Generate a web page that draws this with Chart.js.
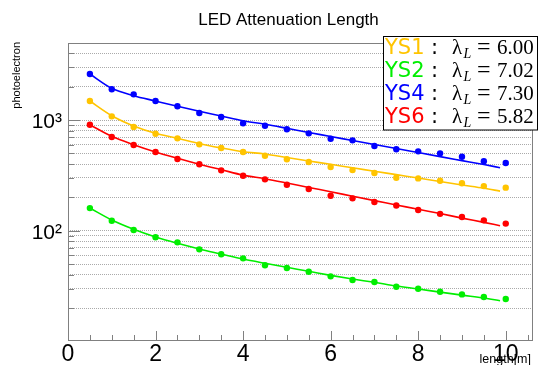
<!DOCTYPE html>
<html><head><meta charset="utf-8">
<script src="https://cdn.jsdelivr.net/npm/chart.js@4"></script>
<style>html,body{margin:0;padding:0;background:#fff}</style>
</head><body>
<canvas id="c" width="539" height="365" style="display:block;width:539px;height:365px"></canvas>
<script>
// ---- data ----
const lengthsM = [0.5,1.0,1.5,2.0,2.5,3.0,3.5,4.0,4.5,5.0,5.5,6.0,6.5,7.0,7.5,8.0,8.5,9.0,9.5,10.0];
const fitLengthsM = [0.5,1.0,1.5,2.0,2.5,3.0,3.5,4.0,4.5,5.0,5.5,6.0,6.5,7.0,7.5,8.0,8.5,9.0,9.5,9.87];

const ys1Points = [1484,1079,865,752,683,603,559,514,476,442,417,376,353,332,301,297,283,268,253,245];
const ys2Points = [160,123,101.5,87.2,78.5,67.9,61.2,56.3,48.7,46.0,42.6,38.7,35.9,34.4,31.2,29.9,28.1,26.6,25.2,24.2];
const ys4Points = [2604,1894,1706,1484,1330,1157,1064,934,888,824,758,678,655,582,544,521,500,466,424,409];
const ys6Points = [907,702,594,514,444,398,351,314,291,260,238,207,196,182,169,154,142,133,124,116];

const ys1Fit = [1484,1093,883,758,683,611,559,517,493,458,426,398,370,345,321,299,278,259,242,228];
const ys2Fit = [160.3,125,103,87.7,76.9,68.4,61.6,55.5,50.8,46.7,43.0,39.5,36.6,34.2,31.7,29.8,27.9,26.2,24.7,23.3];
const ys4Fit = [2604,1933,1658,1484,1330,1198,1087,985,915,841,771,710,652,600,553,508,467,430,396,371];
const ys6Fit = [907,712,598,514,451,398,356,318,295,270,246,225,205,187,171,156,143,130,119,111];

const seriesNames = ['YS1','YS2','YS4','YS6'];
const attenuationLengths = ['6.00','7.02','7.30','5.82'];

const xTickValues = [0,2,4,6,8,10];
const xMinorTickValues = [0.5,1,1.5,2.5,3,3.5,4.5,5,5.5,6.5,7,7.5,8.5,9,9.5,10.5];
const yTickValues = [20,30,40,50,60,70,80,90,100,200,300,400,500,600,700,800,900,1000,2000,3000,4000];
const yMajorTickValues = [100,1000];
const yTickLabels = {100:'10\u00B2', 1000:'10\u00B3'};

const chartTitle = 'LED Attenuation Length';
const yTitle = 'photoelectron';
const xTitle = 'length[m]';

// ---- styles ----
const colors = {YS1:'#ffc400', YS2:'#00ee00', YS4:'#0000ff', YS6:'#ff0000'};
const AXIS = '#808080';

function pts(xs, ys){ return xs.map((x,i)=>({x:x, y:ys[i]})); }
function fitDs(ys, c){ return {data: pts(fitLengthsM, ys), borderColor:c, borderWidth:1.6, pointRadius:0, fill:false, cubicInterpolationMode:'monotone'}; }
function ptDs(ys, c){ return {data: pts(lengthsM, ys), showLine:false, pointRadius:3.2, pointBackgroundColor:c, pointBorderWidth:0, borderColor:c}; }

const decor = {
  id:'decor',
  beforeDatasetsDraw(chart){
    const ctx = chart.ctx, a = chart.chartArea, xs = chart.scales.x, ys = chart.scales.y;
    ctx.save();
    ctx.strokeStyle = AXIS; ctx.lineWidth = 1;
    yTickValues.forEach(v=>{
      const py = Math.round(ys.getPixelForValue(v)) + 0.5;
      const len = yMajorTickValues.includes(v) ? 12 : 6;
      ctx.beginPath(); ctx.moveTo(a.left, py); ctx.lineTo(a.left + len, py); ctx.stroke();
    });
    xTickValues.forEach(v=>{
      const px = Math.round(xs.getPixelForValue(v)) + 0.5;
      ctx.beginPath(); ctx.moveTo(px, a.bottom); ctx.lineTo(px, a.bottom - 9); ctx.stroke();
    });
    xMinorTickValues.forEach(v=>{
      const px = Math.round(xs.getPixelForValue(v)) + 0.5;
      ctx.beginPath(); ctx.moveTo(px, a.bottom); ctx.lineTo(px, a.bottom - 5); ctx.stroke();
    });
    ctx.strokeRect(Math.round(a.left)+0.5, Math.round(a.top)+0.5, Math.round(a.right-a.left), Math.round(a.bottom-a.top));
    ctx.restore();
  },
  afterDraw(chart){
    const ctx = chart.ctx;
    ctx.save();
    ctx.fillStyle = '#000';
    ctx.font = '17px "Liberation Sans", Arial, sans-serif';
    ctx.textAlign = 'center'; ctx.textBaseline = 'alphabetic';
    ctx.fillText(chartTitle, 288.5, 25);
    ctx.save();
    ctx.translate(19.5, 42); ctx.rotate(-Math.PI/2);
    ctx.font = '11px "Liberation Sans", Arial, sans-serif';
    ctx.textAlign = 'right';
    ctx.fillText(yTitle, 0, 0);
    ctx.restore();
    ctx.font = '12.5px "Liberation Sans", Arial, sans-serif';
    ctx.textAlign = 'right';
    ctx.fillText(xTitle, 531, 363);
    // legend box
    ctx.fillStyle = '#fff';
    ctx.fillRect(383.5, 36.5, 154, 93.5);
    ctx.strokeStyle = '#000'; ctx.lineWidth = 1;
    ctx.strokeRect(383.5, 36.5, 154, 93.5);
    ctx.textAlign = 'left';
    seriesNames.forEach((n,i)=>{
      const b = 54 + 23.1*i;
      ctx.fillStyle = colors[n];
      ctx.font = '21px "DejaVu Sans", sans-serif';
      ctx.fillText(n, 385, b);
      ctx.fillStyle = '#000';
      ctx.fillText(':', 431, b);
      ctx.font = '21px "Liberation Serif", "DejaVu Serif", serif';
      ctx.fillText('\u03BB', 452, b);
      ctx.font = 'italic 14px "Liberation Serif", "DejaVu Serif", serif';
      ctx.fillText('L', 463.5, b + 4);
      ctx.font = '24px "Liberation Serif", "DejaVu Serif", serif';
      ctx.fillText('=', 477, b);
      ctx.font = '21px "Liberation Serif", "DejaVu Serif", serif';
      ctx.fillText(attenuationLengths[i], 497, b);
    });
    ctx.restore();
  }
};

new Chart(document.getElementById('c').getContext('2d'), {
  type:'line',
  data:{ datasets:[
    fitDs(ys4Fit, colors.YS4), fitDs(ys1Fit, colors.YS1), fitDs(ys6Fit, colors.YS6), fitDs(ys2Fit, colors.YS2),
    ptDs(ys4Points, colors.YS4), ptDs(ys1Points, colors.YS1), ptDs(ys6Points, colors.YS6), ptDs(ys2Points, colors.YS2)
  ]},
  options:{
    responsive:false, animation:false, devicePixelRatio:1,
    layout:{ padding:{ left:0, right:7, top:43, bottom:0 } },
    plugins:{ legend:{display:false}, title:{display:false}, tooltip:{enabled:false} },
    scales:{
      x:{ type:'linear', min:0, max:10.6,
          afterBuildTicks: s=>{ s.ticks = xTickValues.map(v=>({value:v})); },
          afterFit: s=>{ s.height = 25; },
          grid:{ display:false }, border:{ display:false },
          ticks:{ font:{ family:'"Liberation Sans", Arial, sans-serif', size:23 }, color:'#000', padding:-7, maxRotation:0, minRotation:0, autoSkip:false, callback: v=>String(v) } },
      y:{ type:'logarithmic', min:10.3, max:4962,
          afterBuildTicks: s=>{ s.ticks = yTickValues.map(v=>({value:v})); },
          afterFit: s=>{ s.width = 68; },
          grid:{ color:'#aaaaaa', lineWidth:1, drawTicks:false, drawOnChartArea:true },
          border:{ display:false, dash:[1,1] },
          ticks:{ font:{ family:'"Liberation Sans", Arial, sans-serif', size:21 }, color:'#000', padding:6, labelOffset:2, autoSkip:false, callback: v=> yTickLabels[v] || '' } }
    }
  },
  plugins:[decor]
});
</script>
</body></html>
